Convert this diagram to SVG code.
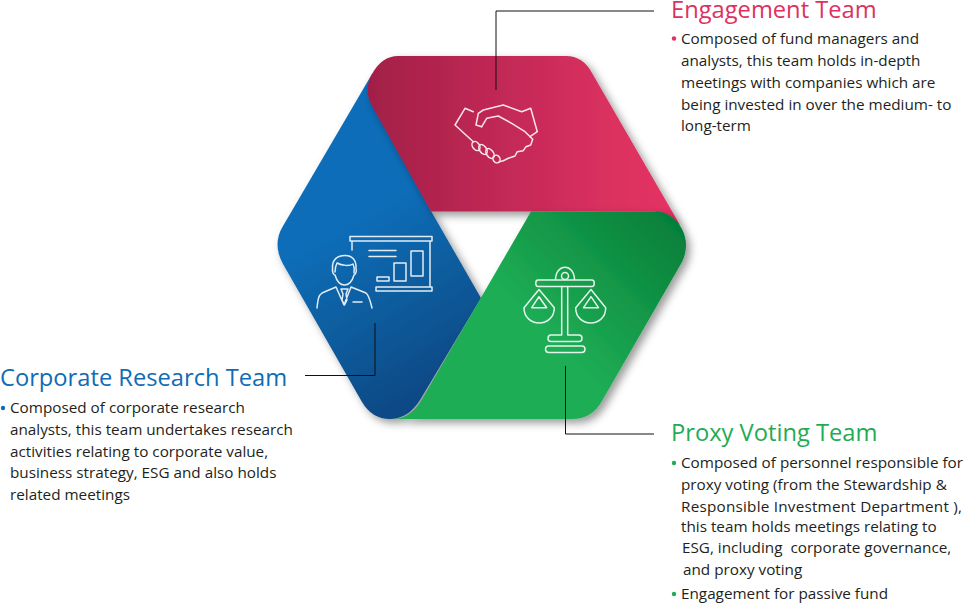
<svg xmlns="http://www.w3.org/2000/svg" width="964" height="603" viewBox="0 0 964 603">
<style>
text{font-family:"Open Sans","Noto Sans",sans-serif;white-space:pre;}
.h{font-size:23.7px;}
.b{font-size:15.27px;fill:#231f20;}
.red{fill:#e0305f}.blue{fill:#0f6cb6}.green{fill:#1fac54}
.ico{fill:none;stroke:#fff;stroke-width:1.5;stroke-linejoin:round;stroke-linecap:round;opacity:.88}
.ln{fill:none;stroke:#111;stroke-width:1}
</style>
<defs>
<linearGradient id="gr" x1="368" y1="0" x2="680" y2="0" gradientUnits="userSpaceOnUse"><stop offset="0" stop-color="#a21f48"/><stop offset="0.75" stop-color="#d9305f"/><stop offset="1" stop-color="#e63364"/></linearGradient>
<linearGradient id="gb" x1="340" y1="230" x2="430" y2="385" gradientUnits="userSpaceOnUse"><stop offset="0" stop-color="#0f6db8"/><stop offset="0.45" stop-color="#0f5e9f"/><stop offset="1" stop-color="#0a4a87"/></linearGradient>
<linearGradient id="gg" x1="665" y1="215" x2="545" y2="335" gradientUnits="userSpaceOnUse"><stop offset="0" stop-color="#06803a"/><stop offset="1" stop-color="#1fad55"/></linearGradient>
<filter id="sh" x="-15%" y="-15%" width="135%" height="135%"><feDropShadow dx="4" dy="4" stdDeviation="4" flood-color="#000" flood-opacity=".4"/></filter>
</defs>

<g id="node-corporate-research">
<path filter="url(#sh)" fill="url(#gb)" d="M372 74L431 211L481 298L420 400Q408 419 390 419Q372 419 362 402L283 264Q272 244 283 226Z"/>
<g class="ico">
<path d="M350 236.500H432V241H350ZM352 241V250M430 241V287M376 287H432V291H376ZM369 250.500H396M369 256.500H396M377 277H389V281H377ZM394 263H406V281H394ZM411 251H423V276H411Z"/>
<path d="M332.500 268C332 259 338 255.500 345 255.500C352 255.500 356.500 260 356 268C357 272 355 275 354 275C352 282 348 285 344.500 285C341 285 337 282 335 275C333.500 275 332 272 332.500 268ZM335 272C335 268 336 265 337 263C342 266 350 266 353 264C354 266 355 269 354 273"/>
<path d="M317 308C318 298 319 295 322 293L336 287L344 305L351 287L366 293C369 295 370 300 372 308M341 289H348L346 294L347 300L344.500 305L342 300L343 294Z M353 302H362"/>
</g>
</g>

<g id="node-engagement">
<path filter="url(#sh)" fill="url(#gr)" d="M398 56H566Q583 56 592 73L680 225L655 211.500H431L372 106Q363 90 372 74Q382 56 398 56Z"/>
<g class="ico">
<path d="M473.300 111.700L465 108.300L455 125L473.300 141.700"/>
<path d="M481.700 126.700L476 125L478.300 113.300L483.300 110L503.300 105L521.700 111.700L530.700 108.300L537.300 131.700L530 136.700"/>
<path d="M481.700 126.700L486.700 118.300L498.300 116L511.700 123.300L525 131.700L532.700 139.300L530.700 145L526 146.700L523.300 150.700L517.300 151.700L515 156L508.300 158.300L503.300 160.700L499.300 161.700"/>
<ellipse cx="476" cy="146" rx="3.400" ry="5" transform="rotate(-35 476 146)"/><ellipse cx="483" cy="149.500" rx="3.400" ry="5.500" transform="rotate(-35 483 149.500)"/><ellipse cx="490" cy="153.500" rx="3.400" ry="5.500" transform="rotate(-35 490 153.500)"/><ellipse cx="496.500" cy="159" rx="3.400" ry="4" transform="rotate(-35 496.500 159)"/>
</g>
</g>

<g id="node-proxy-voting">
<path filter="url(#sh)" fill="url(#gg)" d="M531 211.500H655Q672 211.500 682 229Q690 245 682 262L602 401Q592 419 572 419H392Q410 419 421 401Z"/>
<g class="ico">
<path d="M555.500 280C555.500 263 574.500 263 574.500 280M538 280H592C595 280 595 286.500 592 286.500H538C535 286.500 535 280 538 280Z"/>
<circle cx="565" cy="276" r="3.500"/>
<path d="M561.700 286.500V335H551C547 335 547 341.500 551 341.500H579C583 341.500 583 335 579 335H567.700V286.500"/>
<rect x="545.500" y="346" width="39.500" height="6.500" rx="3.200"/>
<path d="M539 289.500L524 307.700C524 328 554.300 328 554.300 307.700ZM539 296.700L531.700 307.700H546.700Z M591 289.500L575.700 307.700C575.700 328 605.700 328 605.700 307.700ZM591 296.700L583.500 307.700H598.500Z"/>
</g>
</g>

<g id="connectors">
<path class="ln" d="M496 90V11H654"/>
<path class="ln" d="M375 323V375.500H305"/>
<path class="ln" d="M565.500 366V434H654"/>
</g>

<g id="label-engagement">
<text class="h red" x="671" y="18">Engagement Team</text>
<circle class="red" cx="674" cy="38.500" r="2.200"/>
<text class="b" x="681" y="44">Composed of fund managers and</text>
<text class="b" x="681" y="66">analysts, this team holds in-depth</text>
<text class="b" x="681" y="88">meetings with companies which are</text>
<text class="b" x="681" y="110">being invested in over the medium- to</text>
<text class="b" x="681" y="131">long-term</text>
</g>

<g id="label-corporate-research">
<text class="h blue" x="0" y="386">Corporate Research Team</text>
<circle class="blue" cx="3" cy="408" r="2.200"/>
<text class="b" x="10" y="413">Composed of corporate research</text>
<text class="b" x="10" y="435">analysts, this team undertakes research</text>
<text class="b" x="10" y="457">activities relating to corporate value,</text>
<text class="b" x="10" y="478">business strategy, ESG and also holds</text>
<text class="b" x="10" y="500">related meetings</text>
</g>

<g id="label-proxy-voting">
<text class="h green" x="671" y="441">Proxy Voting Team</text>
<circle class="green" cx="674" cy="463" r="2.200"/>
<text class="b" x="681" y="468">Composed of personnel responsible for</text>
<text class="b" x="681" y="490">proxy voting (from the Stewardship &amp;</text>
<text class="b" x="681" y="512" textLength="281">Responsible Investment Department ),</text>
<text class="b" x="681" y="532">this team holds meetings relating to</text>
<text class="b" x="682" y="553">ESG, including  corporate governance,</text>
<text class="b" x="683" y="575">and proxy voting</text>
<circle class="green" cx="674" cy="594" r="2.200"/>
<text class="b" x="681" y="599">Engagement for passive fund</text>
</g>
</svg>
